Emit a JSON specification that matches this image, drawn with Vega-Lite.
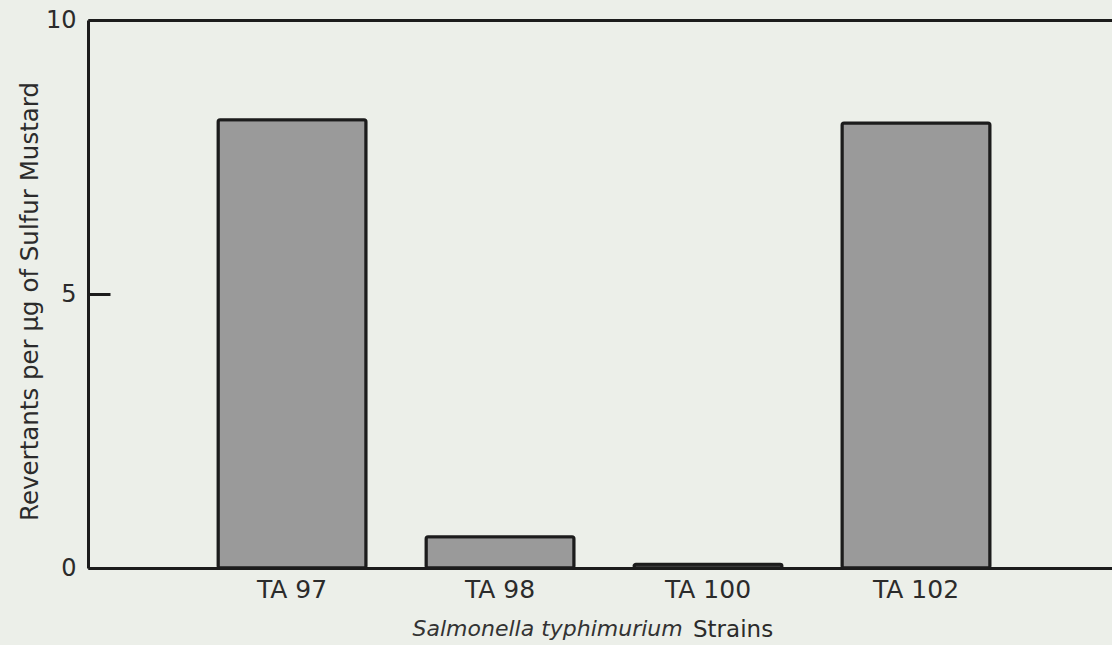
{
  "$schema": "https://vega.github.io/schema/vega-lite/v6.json",
  "width": 1024,
  "height": 548,
  "autosize": {"type": "none"},
  "padding": {"left": 88, "top": 20, "right": 0, "bottom": 77},
  "background": "#ecefe9",
  "config": {"view": {"stroke": null}, "font": "DejaVu Sans"},
  "data": {
    "values": [
      {"strain": "TA 97", "revertants": 8.18},
      {"strain": "TA 98", "revertants": 0.57},
      {"strain": "TA 100", "revertants": 0.07},
      {"strain": "TA 102", "revertants": 8.12}
    ]
  },
  "title": {
    "text": "Strains",
    "orient": "bottom",
    "anchor": "start",
    "frame": "group",
    "dx": 605,
    "dy": -2,
    "offset": 0,
    "baseline": "alphabetic",
    "fontSize": 23,
    "fontWeight": "normal",
    "font": "DejaVu Sans",
    "color": "#2b2b2b"
  },
  "layer": [
    {
      "mark": {"type": "bar", "fill": "#9a9a9a", "stroke": "#1c1c1c", "strokeWidth": 3, "cornerRadius": 2},
      "encoding": {
        "x": {
          "field": "strain",
          "type": "nominal",
          "sort": null,
          "scale": {"paddingInner": 0.2885, "paddingOuter": 0.606, "align": 0.516},
          "axis": {
            "orient": "bottom",
            "labelAngle": 0,
            "labelFontSize": 25,
            "labelColor": "#2b2b2b",
            "labelPadding": 9,
            "ticks": false,
            "domainColor": "#1c1c1c",
            "domainWidth": 3,
            "title": "Salmonella typhimurium",
            "titleFontStyle": "italic",
            "titleFontWeight": "normal",
            "titleFontSize": 22,
            "titleColor": "#333333",
            "titleAlign": "left",
            "titleAnchor": "start",
            "titleX": 324,
            "titleY": 67,
            "titleBaseline": "alphabetic"
          }
        },
        "y": {
          "field": "revertants",
          "type": "quantitative",
          "scale": {"domain": [0, 10], "nice": false},
          "axis": {
            "values": [0, 5, 10],
            "tickSize": -22,
            "tickWidth": 3,
            "tickColor": "#1c1c1c",
            "domainColor": "#1c1c1c",
            "domainWidth": 3,
            "grid": false,
            "labelFlush": false,
            "labelFontSize": 24,
            "labelColor": "#2b2b2b",
            "labelPadding": 34,
            "title": "Revertants per µg of Sulfur Mustard",
            "titleFontSize": 24.5,
            "titleFontWeight": "normal",
            "titleColor": "#2b2b2b",
            "titleX": -51,
            "titleY": 281,
            "titleBaseline": "alphabetic",
            "titleAlign": "center",
            "titleAngle": -90
          }
        }
      }
    },
    {
      "mark": {"type": "bar", "opacity": 0},
      "encoding": {
        "x": {
          "field": "strain",
          "type": "nominal",
          "sort": null,
          "axis": {"orient": "top", "labels": false, "ticks": false, "title": null, "domainColor": "#1c1c1c", "domainWidth": 3}
        }
      }
    }
  ],
  "resolve": {"axis": {"x": "independent"}}
}
